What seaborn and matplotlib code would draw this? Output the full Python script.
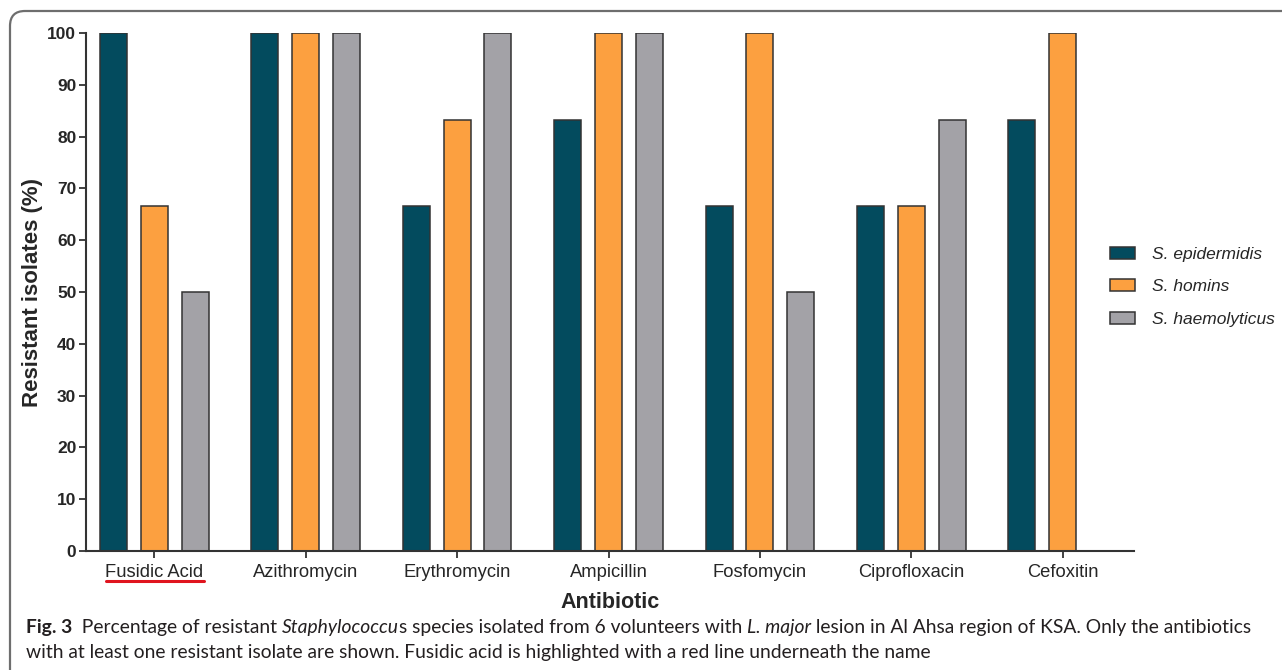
import matplotlib
matplotlib.use("Agg")
import matplotlib.pyplot as plt
import numpy as np
import pandas as pd
import seaborn as sns
from matplotlib.path import Path
from matplotlib.patches import PathPatch

antibiotics = ["Fusidic Acid", "Azithromycin", "Erythromycin", "Ampicillin",
               "Fosfomycin", "Ciprofloxacin", "Cefoxitin"]
species = ["S. epidermidis", "S. homins", "S. haemolyticus"]
epidermidis = [100, 100, 66.7, 83.3, 66.7, 66.7, 83.3]
homins = [66.7, 100, 83.3, 100, 100, 66.7, 100]
haemolyticus = [50, 100, 100, 100, 50, 83.3, 0]
colors = ["#034b5e", "#fca040", "#a3a2a7"]

df = pd.DataFrame({
    "Antibiotic": antibiotics * 3,
    "Species": [species[0]] * 7 + [species[1]] * 7 + [species[2]] * 7,
    "Value": epidermidis + homins + haemolyticus,
})

sns.set_style("ticks")
plt.rcParams['font.family'] = ['Liberation Sans', 'DejaVu Sans']

fig = plt.figure(figsize=(12.82, 6.70), dpi=100)
ax = fig.add_axes([0.0671, 0.1776, 0.8175, 0.7731])

sns.barplot(data=df, x="Antibiotic", y="Value", hue="Species", order=antibiotics,
            hue_order=species, palette=colors, saturation=1, width=0.81, gap=0.34,
            edgecolor="#333333", linewidth=1.1, ax=ax, legend=True)

ax.set_ylim(0, 100)
ax.set_xlim(-0.45, 6.47)
ax.set_yticks(np.arange(0, 101, 10))
sns.despine(ax=ax)
for s in ["left", "bottom"]:
    ax.spines[s].set_linewidth(1.5)
    ax.spines[s].set_color("#333333")
ax.tick_params(axis="both", direction="out", length=5, width=1.3, color="#333333")
ax.tick_params(axis="y", labelsize=12.5, pad=2)
ax.tick_params(axis="x", labelsize=13.2, pad=4)
for t in ax.get_yticklabels():
    t.set_fontweight("bold")
ax.set_ylabel("Resistant isolates (%)", fontsize=16, fontweight="bold", labelpad=3)
ax.set_xlabel("Antibiotic", fontsize=15.5, fontweight="bold", labelpad=8)

# red underline under Fusidic Acid
ax.plot([-0.32, 0.33], [-0.058, -0.058], color="#e0141e", lw=2.2,
        transform=ax.get_xaxis_transform(), clip_on=False)

handles, labels = ax.get_legend_handles_labels()
ax.get_legend().remove()
fig.legend(handles, labels, loc="center left", bbox_to_anchor=(0.854, 0.572),
           frameon=False, prop={"style": "italic", "size": 12.5},
           handlelength=1.44, handleheight=0.7, labelspacing=1.0, handletextpad=0.95)

# rounded frame (top and left)
rx, ry = 15 / 1282, 15 / 670
x0, y0 = 10 / 1282, 1 - 11 / 670
pts = [(1.0, y0), (x0 + rx, y0), (x0, y0), (x0, y0 - ry), (x0, 0.0)]
codes = [Path.MOVETO, Path.LINETO, Path.CURVE3, Path.CURVE3, Path.LINETO]
fig.patches.append(PathPatch(Path(pts, codes), transform=fig.transFigure,
                             fill=False, edgecolor="#6e6e6e", lw=1.6))

# caption with mixed styles
cap_font = ['Lato', 'DejaVu Sans']
cap_size = 13.9
renderer = fig.canvas.get_renderer()


def draw_runs(runs, x, y):
    for txt, weight, style in runs:
        t = fig.text(x, y, txt, fontsize=cap_size, family=cap_font, weight=weight,
                     style=style, color="#231f20", va="baseline", ha="left")
        bb = t.get_window_extent(renderer=renderer)
        x += bb.width / fig.bbox.width


line1 = [("Fig. 3", "bold", "normal"),
         ("  Percentage of resistant ", "normal", "normal"),
         ("Staphylococcu", "normal", "italic"),
         ("s species isolated from 6 volunteers with ", "normal", "normal"),
         ("L. major", "normal", "italic"),
         (" lesion in Al Ahsa region of KSA. Only the antibiotics", "normal", "normal")]
line2 = [("with at least one resistant isolate are shown. Fusidic acid is highlighted "
          "with a red line underneath the name", "normal", "normal")]
draw_runs(line1, 26 / 1282, 1 - 633 / 670)
draw_runs(line2, 26 / 1282, 1 - 658 / 670)

fig.savefig("out.png", dpi=100)
